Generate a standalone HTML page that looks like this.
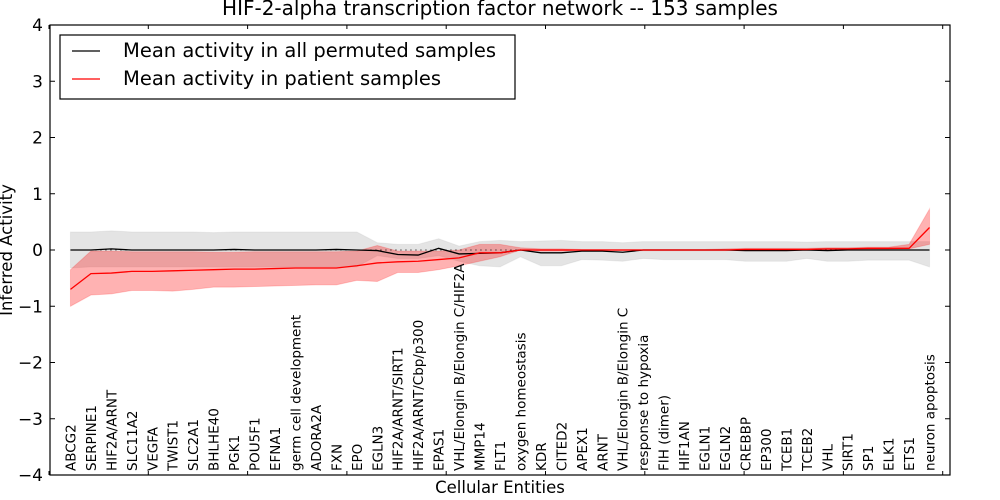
<!DOCTYPE html>
<html><head><meta charset="utf-8"><style>
body{margin:0;background:#fff;}
svg{display:block;font-family:"DejaVu Sans","Liberation Sans",sans-serif;}
</style></head><body>
<svg id="chart" width="1000" height="500" viewBox="0 0 1000 500" xmlns="http://www.w3.org/2000/svg">
<rect x="0" y="0" width="1000" height="500" fill="#fff"/>
<g id="plot"></g>
<g id="axes"></g>
</svg>
<script>
const categories=["ABCG2","SERPINE1","HIF2A/ARNT","SLC11A2","VEGFA","TWIST1","SLC2A1","BHLHE40","PGK1","POU5F1","EFNA1","germ cell development","ADORA2A","FXN","EPO","EGLN3","HIF2A/ARNT/SIRT1","HIF2A/ARNT/Cbp/p300","EPAS1","VHL/Elongin B/Elongin C/HIF2A","MMP14","FLT1","oxygen homeostasis","KDR","CITED2","APEX1","ARNT","VHL/Elongin B/Elongin C","response to hypoxia","FIH (dimer)","HIF1AN","EGLN1","EGLN2","CREBBP","EP300","TCEB1","TCEB2","VHL","SIRT1","SP1","ELK1","ETS1","neuron apoptosis"];
const permMean=[0,0,0.02,0,0,0,0,0,0.01,0,0,0,0,0.01,0,-0.01,-0.08,-0.09,0.03,-0.07,-0.06,-0.05,0,-0.05,-0.05,-0.02,-0.02,-0.04,0,0,0,0,0,-0.01,-0.01,-0.01,0,-0.01,0,0,0,0,0];
const permUpper=[0.32,0.32,0.34,0.32,0.32,0.32,0.32,0.31,0.32,0.32,0.32,0.32,0.32,0.32,0.32,0.13,0.1,0.1,0.2,0.07,0.15,0.17,0.15,0.16,0.17,0.15,0.15,0.13,0.15,0.15,0.15,0.15,0.15,0.15,0.15,0.15,0.14,0.15,0.15,0.15,0.15,0.15,0.15];
const permLower=[-0.32,-0.3,-0.3,-0.3,-0.3,-0.3,-0.3,-0.3,-0.3,-0.3,-0.3,-0.3,-0.3,-0.3,-0.3,-0.1,-0.15,-0.15,-0.1,-0.2,-0.28,-0.3,-0.12,-0.28,-0.28,-0.17,-0.18,-0.2,-0.15,-0.17,-0.17,-0.17,-0.17,-0.2,-0.2,-0.2,-0.15,-0.2,-0.2,-0.18,-0.18,-0.18,-0.3];
const patMean=[-0.7,-0.42,-0.41,-0.38,-0.38,-0.37,-0.36,-0.35,-0.34,-0.34,-0.33,-0.32,-0.32,-0.32,-0.28,-0.23,-0.21,-0.2,-0.17,-0.14,-0.05,-0.05,0,0,0,0,0,0,0,0,0,0,0,0.01,0.01,0.01,0.01,0.02,0.02,0.03,0.03,0.03,0.4];
const patUpper=[-0.35,-0.02,-0.02,-0.03,-0.03,-0.03,-0.03,-0.04,-0.04,-0.03,-0.03,-0.03,-0.03,-0.03,-0.02,0.08,-0.02,-0.02,-0.02,0,0.1,0.1,0.04,0.02,0.02,0.01,0.01,0.01,0.01,0.01,0.01,0.01,0.02,0.03,0.03,0.03,0.03,0.04,0.04,0.05,0.05,0.1,0.73];
const patLower=[-1.0,-0.8,-0.78,-0.72,-0.72,-0.73,-0.7,-0.66,-0.66,-0.65,-0.64,-0.63,-0.62,-0.62,-0.54,-0.56,-0.4,-0.4,-0.35,-0.28,-0.2,-0.12,0,-0.02,-0.02,-0.01,-0.01,-0.01,-0.01,-0.01,-0.01,-0.01,-0.01,0,0,0,0,0,0,0.01,0.01,0.02,0.1];
const yTicks=[4,3,2,1,0,-1,-2,-3,-4];
const yTickLabels=["4","3","2","1","0","\u22121","\u22122","\u22123","\u22124"];

const L=50,R=950,T=25,B=475;
const X=i=>L+(i+1)*(R-L)/44;
const Y=v=>T+(4-v)*(B-T)/8;
const NS="http://www.w3.org/2000/svg";
const plot=document.getElementById('plot'),axes=document.getElementById('axes');
function mk(tag,attrs,parent){const e=document.createElementNS(NS,tag);for(const k in attrs)e.setAttribute(k,attrs[k]);parent.appendChild(e);return e;}
function band(up,lo,fill,op,name){
  let d="M"+up.map((v,i)=>X(i)+","+Y(v)).join("L");
  for(let i=lo.length-1;i>=0;i--)d+="L"+X(i)+","+Y(lo[i]);
  const p=mk('path',{d:d+"Z",fill:fill,'fill-opacity':op,stroke:fill,'stroke-opacity':op*0.6,'stroke-width':1},plot);
  
  
}
function line(vals,color,name){
  const p=mk('path',{d:"M"+vals.map((v,i)=>X(i)+","+Y(v)).join("L"),fill:'none',stroke:color,'stroke-width':1.3},plot);
  
  
}
band(permUpper,permLower,'#bbbbbb',0.4,'permuted-band');
band(patUpper,patLower,'#ff0000',0.3,'patient-band');
const z=mk('line',{x1:X(0),x2:X(categories.length-1),y1:Y(0),y2:Y(0),stroke:'#000','stroke-dasharray':'1,4','stroke-width':1},plot);


line(permMean,'#000','permuted-mean-line');
line(patMean,'#ff0000','patient-mean-line');

mk('rect',{x:L,y:T,width:R-L,height:B-T,fill:'none',stroke:'#000','stroke-width':1.2},axes);
yTicks.forEach((v,i)=>{
  mk('line',{x1:L,x2:L+5,y1:Y(v),y2:Y(v),stroke:'#000'},axes);
  mk('line',{x1:R,x2:R-5,y1:Y(v),y2:Y(v),stroke:'#000'},axes);
  const t=mk('text',{x:L-7,y:Y(v)+6,'text-anchor':'end','font-size':17},axes);
  t.textContent=yTickLabels[i];
  
  
});
for(let k=0;k<10;k++){const x=49+99.3*k;
  mk('line',{x1:x,x2:x,y1:T,y2:T+4,stroke:'#000'},axes);
  mk('line',{x1:x,x2:x,y1:B,y2:B-4,stroke:'#000'},axes);}
categories.forEach((c,i)=>{
  const t=mk('text',{transform:`translate(${X(i)+5},471) rotate(-90)`,'font-size':13.5},axes);
  t.textContent=c;
  
  
});
let t=mk('text',{x:500,y:15,'text-anchor':'middle','font-size':20},axes);t.textContent="HIF-2-alpha transcription factor network -- 153 samples";


t=mk('text',{x:500,y:493,'text-anchor':'middle','font-size':16.5},axes);t.textContent="Cellular Entities";


t=mk('text',{transform:'translate(12,250) rotate(-90)','text-anchor':'middle','font-size':16.5},axes);t.textContent="Inferred Activity";


const lg=mk('g',{},axes);


mk('rect',{x:60,y:35,width:455,height:64,fill:'#fff',stroke:'#000','stroke-width':1.2},lg);
mk('line',{x1:72,x2:100,y1:51,y2:51,stroke:'#000','stroke-width':1.3},lg);
mk('line',{x1:72,x2:100,y1:79,y2:79,stroke:'#f00','stroke-width':1.3},lg);
t=mk('text',{x:123,y:57,'font-size':19.5},lg);t.textContent="Mean activity in all permuted samples";


t=mk('text',{x:123,y:85,'font-size':19.5},lg);t.textContent="Mean activity in patient samples";


</script>
</body></html>
